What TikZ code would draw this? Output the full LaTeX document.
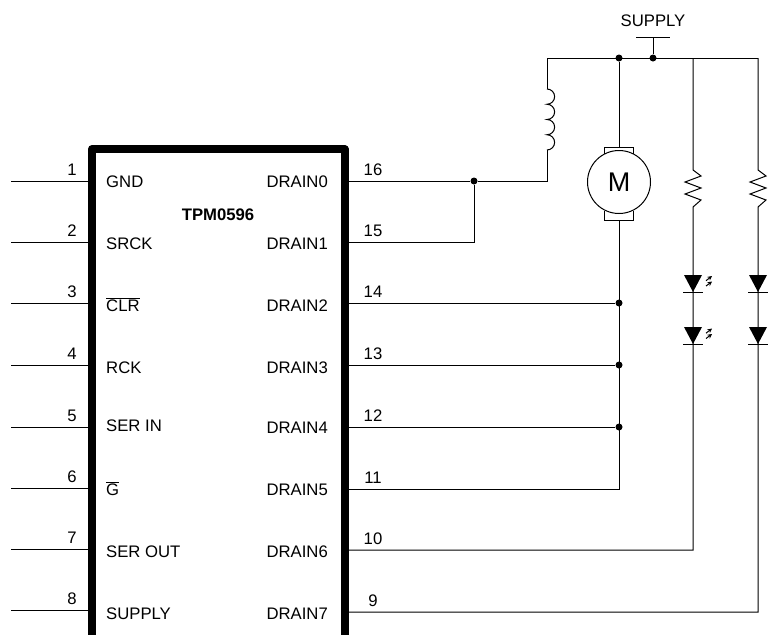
\documentclass[tikz,border=0pt]{standalone}
\usepackage{fontspec}
\setmainfont{Liberation Sans}
\usetikzlibrary{arrows.meta}
\tikzset{
  wire/.style={line width=1pt},
  junction/.style={circle,fill=black,inner sep=0pt,minimum size=7pt},
  pinlabel/.style={inner sep=0pt,font=\fontsize{16.7}{18}\selectfont},
}
\begin{document}
\begin{tikzpicture}[x=1pt,y=-1pt]
     	\useasboundingbox (0,0) rectangle (769,635);
     	% package outline, open at the bottom
     	\draw[line width=8pt,line join=round] (92,635)--(92,149)--(344.5,149)--(344.5,635);
     	\node[pinlabel,font=\fontsize{16.7}{18}\selectfont\bfseries] (chip) at (218,215) {TPM0596};
     	% left pins
     	\foreach \n/\y/\t/\lab in {1/181/187/GND,2/242/249/SRCK,3/303/311/{$\overline{\mbox{CLR}}$},4/365/373/RCK,5/427/431/SER IN,6/488/495/{$\overline{\mbox{G}}$},7/549/557/SER OUT,8/610/619/SUPPLY}{
     		\coordinate (lout\n) at (11,\y);
     		\coordinate (lin\n) at (90,\y);
     		\draw[wire] (lout\n)--(lin\n);
     		\node[pinlabel,anchor=base] (lnum\n) at (72,\y-6) {\n};
     		\node[pinlabel,anchor=base west] (lname\n) at (106,\t) {\lab};
     	}
     	% right pins
     	\foreach \n/\y/\t/\lab in {16/181/187/DRAIN0,15/242/249/DRAIN1,14/303/311/DRAIN2,13/365/373/DRAIN3,12/427/433/DRAIN4,11/489/495/DRAIN5,10/550/557/DRAIN6,9/612/619/DRAIN7}{
     		\coordinate (rin\n) at (347,\y);
     		\node[pinlabel,anchor=base] (rnum\n) at (373,\y-6) {\n};
     		\node[pinlabel,anchor=base east] (rname\n) at (328,\t) {\lab};
     	}
     	% supply rail
     	\coordinate (railL) at (547,58);
     	\coordinate (railR) at (758,58);
     	\node[junction] (jm) at (619,58) {};
     	\node[junction] (js) at (653,58) {};
     	\coordinate (st) at (653,37);
     	\draw[wire] (railL)--(railR);
     	\draw[wire] (js)--(st);
     	\draw[wire] (636,37)--(670,37);
     	\node[pinlabel] (supply) at (653,21) {SUPPLY};
     	% coil
     	\node[junction] (j0) at (474,181) {};
     	\coordinate (coilT) at (547,89);
     	\coordinate (coilB) at (547,150);
     	\draw[wire] (rin16)--(j0);
     	\draw[wire] (rin15)-|(j0);
     	\draw[wire] (j0)-|(coilB);
     	\draw[wire] (railL)--(coilT);
     	\draw[wire] (coilT) arc(-90:90:7.625) arc(-90:90:7.625) arc(-90:90:7.625) arc(-90:90:7.625);
     	% motor
     	\node[circle,draw,line width=1pt,fill=white,minimum size=63pt,inner sep=0pt,font=\fontsize{27}{29}\selectfont] (motor) at (619,182) {M};
     	\coordinate (mtop) at (619,147);
     	\coordinate (mbot) at (619,220);
     	\draw[wire] (604.5,153.5)--(604.5,147)--(633.5,147)--(633.5,153.5);
     	\draw[wire] (604.5,210.5)--(604.5,220)--(633.5,220)--(633.5,210.5);
     	\draw[wire] (jm)--(mtop);
     	\coordinate (m11) at (619,489);
     	\draw[wire] (mbot)--(m11)--(rin11);
     	\foreach \n/\y in {14/303,13/365,12/427}{
     		\node[junction] (jd\n) at (619,\y) {};
     		\draw[wire] (rin\n)--(jd\n);
     	}
     	% led strings
     	\foreach \x/\n/\y in {693/10/550,758/9/612}{
     		\coordinate (ledtop\n) at (\x,58);
     		\coordinate (ledbot\n) at (\x,\y);
     		\draw[wire] (ledtop\n)--(\x,170)--(\x+8,176)--(\x-8,182)--(\x+8,188)--(\x-8,194)--(\x+8,200)--(\x,207)--(ledbot\n)--(rin\n);
     		\foreach \d in {275,327}{
     			\fill (\x-9,\d)--(\x+9,\d)--(\x,\d+17)--cycle;
     			\draw[wire] (\x-10,\d+17)--(\x+10,\d+17);
     		}
     	}
     	% light arrows
     	\foreach \d in {0,52.5}{
     		\draw[-{Stealth[length=4.5pt,width=4.5pt]},line width=1pt] (706,280.7+\d)--(712,276+\d);
     		\draw[-{Stealth[length=4.5pt,width=4.5pt]},line width=1pt] (706,286+\d)--(712,281.5+\d);
     	}
\end{tikzpicture}
\end{document}
